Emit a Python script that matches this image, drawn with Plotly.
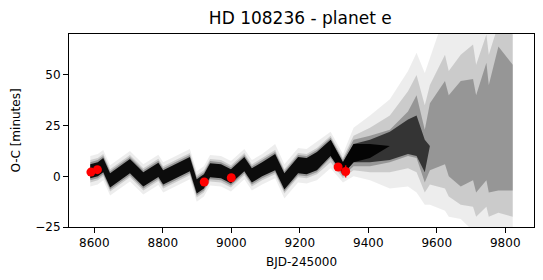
import plotly.graph_objects as go

# ---- data ----
t_grid = [8588, 8610, 8626, 8646, 8704, 8743, 8787, 8801, 8879, 8899,
          8920, 8938, 8970, 8999, 9038, 9060, 9090, 9128, 9155, 9195,
          9220, 9250, 9290, 9326, 9357, 9405, 9463, 9516, 9541, 9565,
          9580, 9624, 9635, 9670, 9706, 9715, 9745, 9752, 9780, 9822]

# outermost envelope of the posterior curves (minutes)
env1_lo = [-5, -4, -2, -9.5, -2.5, -9, -4.3, -8, -1.5, -12.5,
           -10, -4.5, -5, -7.5, -1.5, -7, -4, -1, -11, -3,
           -3.5, -2, 4, -3, 0, -2, -6, -5, -8, -14,
           -14, -17, -20, -21, -27, -30, -27, -30, -27, -30]
env1_hi = [10, 11, 13, 5.5, 12.5, 6, 10.7, 7, 13.5, 2.5,
           5, 10.5, 10, 7.5, 13.5, 8, 11, 16, 6, 14,
           13.5, 17, 22, 11, 24, 30, 38, 52, 61, 51,
           58, 80, 72, 80, 88, 78, 90, 80, 95, 90]
# middle envelope
env2_lo = [-3, -2, 0, -7.5, -0.5, -7, -2.3, -6, 0.5, -10.5,
           -8, -2.5, -3, -5.5, 0.5, -5, -2, 1, -8.5, -0.5,
           -1, 1, 7, -1, 3, 2, 2, 4, 2, -8,
           -4, -6, -10, -14, -15, -20, -15, -20, -18, -20]
env2_hi = [8, 9, 11, 3.5, 10.5, 4, 8.7, 5, 11.5, 0.5,
           3, 8.5, 8, 5.5, 11.5, 6, 9, 13, 3.5, 11.5,
           11, 14, 20, 9, 20, 24, 30, 42, 50, 35,
           45, 60, 52, 60, 65, 55, 70, 60, 75, 70]
# dense envelope
env3_lo = [-2, -1, 1, -6.5, 0.5, -6, -1.3, -5, 1.5, -9.5,
           -7, -1.5, -2, -4.5, 1.5, -4, -1, 2, -7.5, 0.5,
           0, 2, 9, 0, 5, 5, 7, 10, 9, -3,
           3, 6, 0, -5, -2, -8, -2, -8, -7, -7]
env3_hi = [7, 8, 10, 2.5, 9.5, 3, 7.7, 4, 10.5, -0.5,
           2, 7.5, 7, 4.5, 10.5, 5, 8, 12, 2.5, 10.5,
           10, 13, 19, 8, 18, 20, 23, 32, 40, 23,
           36, 47, 40, 47, 48, 40, 56, 45, 64, 55]
# black core (until ~9460)
core_lo = [-1, 0, 2, -5.5, 1.5, -5, -0.3, -4, 2.5, -8.5,
           -6, -0.5, -1, -3.5, 2.5, -3, 0, 3, -6.5, 1.5,
           1, 3, 10, 1, 7, 9, 15]
core_hi = [6, 7, 9, 1.5, 8.5, 2, 6.7, 3, 9.5, -1.5,
           1, 6.5, 6, 3.5, 9.5, 4, 7, 11, 1.5, 9.5,
           9, 12, 18, 7, 16, 16, 15]
# dark-grey continuation of the core (9290 .. 9580)
core2_t = [9290, 9326, 9357, 9405, 9463, 9516, 9541, 9565, 9580]
core2_lo = [10, 1, 7, 7, 8, 11, 10, 2, 15]
core2_hi = [18, 7, 16, 18, 22, 28, 30, 18, 15]

# observed transit timing deviations
obs_t = [8590, 8609, 8921, 9000, 9312, 9334]
obs_oc = [2.1, 3.3, -2.8, -0.7, 4.6, 2.4]
obs_err = [0.8, 0.8, 0.8, 0.8, 1.0, 3.0]

title = "HD 108236 - planet e"
x_title = "BJD-245000"
y_title = "O-C [minutes]"
x_ticks = [8600, 8800, 9000, 9200, 9400, 9600, 9800]
x_ticktext = ["8600", "8800", "9000", "9200", "9400", "9600", "9800"]
y_ticks = [-25, 0, 25, 50]
y_ticktext = ["\u221225", "0", "25", "50"]

fig = go.Figure()


def band(xs, lo, hi, alpha):
    fig.add_trace(go.Scatter(
        x=list(xs) + list(xs)[::-1],
        y=list(hi) + list(lo)[::-1],
        fill="toself", mode="lines", line=dict(width=0),
        fillcolor="rgba(0,0,0,%.2f)" % alpha,
        hoverinfo="skip", showlegend=False))


band(t_grid, env1_lo, env1_hi, 0.07)
band(t_grid, env2_lo, env2_hi, 0.14)
band(t_grid, env3_lo, env3_hi, 0.26)
band(core2_t, core2_lo, core2_hi, 0.65)
band(t_grid[:len(core_lo)], core_lo, core_hi, 0.92)

fig.add_trace(go.Scatter(
    x=obs_t, y=obs_oc, mode="markers",
    marker=dict(color="red", size=9),
    error_y=dict(type="data", array=obs_err, color="red", thickness=1.5, width=0),
    showlegend=False))

font = "DejaVu Sans"
fig.update_layout(
    width=543, height=280,
    margin=dict(l=69, r=9, t=34, b=53, autoexpand=False),
    paper_bgcolor="white", plot_bgcolor="white",
    font=dict(family=font, size=12, color="black"),
    title=dict(text=title, x=0.553, xanchor="center", y=0.935, yanchor="middle",
               font=dict(size=17, family=font, color="black")),
    showlegend=False,
)
fig.update_xaxes(range=[8526, 9884], tickvals=x_ticks, ticktext=x_ticktext,
                 ticks="outside", ticklen=5, automargin=False,
                 tickwidth=1, tickcolor="black", showline=True, linecolor="black",
                 linewidth=1, mirror=True, showgrid=False, zeroline=False,
                 title=dict(text=x_title, font=dict(size=12), standoff=8))
fig.update_yaxes(range=[-25, 70.2], tickvals=y_ticks, ticktext=y_ticktext,
                 ticks="outside", ticklen=5, automargin=False,
                 tickwidth=1, tickcolor="black", showline=True, linecolor="black",
                 linewidth=1, mirror=True, showgrid=False, zeroline=False,
                 title=dict(text=y_title, font=dict(size=12), standoff=12))

fig.write_html("out.html", config={"displayModeBar": False},
               post_script="document.body.style.margin='0';")
